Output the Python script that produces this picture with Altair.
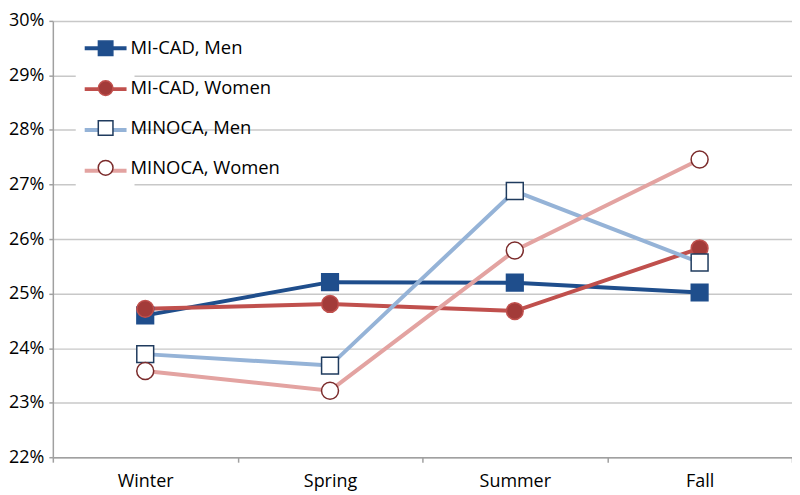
import altair as alt
import pandas as pd

seasons = ["Winter", "Spring", "Summer", "Fall"]
series_names = ["MI-CAD, Men", "MI-CAD, Women", "MINOCA, Men", "MINOCA, Women"]

# values in percent
mi_cad_men = [24.60, 25.21, 25.20, 25.02]
mi_cad_women = [24.72, 24.81, 24.68, 25.83]
minoca_men = [23.89, 23.68, 26.88, 25.57]
minoca_women = [23.58, 23.22, 25.79, 27.46]

y_ticks = [0.22, 0.23, 0.24, 0.25, 0.26, 0.27, 0.28, 0.29, 0.30]

line_colors = ["#1F4E8C", "#C0504D", "#95B3D7", "#E3A3A1"]
marker_fill = ["#1F4E8C", "#A33B39", "#FFFFFF", "#FFFFFF"]
marker_stroke = ["#1F4E8C", "#C0504D", "#1F3B5E", "#7B2B2B"]
marker_shape = ["square", "circle", "square", "circle"]
marker_size = [280, 290, 150, 150]
legend_marker_size = [210, 220, 130, 150]

FONT = "Open Sans"

rows = []
for name, vals in zip(series_names, [mi_cad_men, mi_cad_women, minoca_men, minoca_women]):
    for s, v in zip(seasons, vals):
        rows.append({"season": s, "value": v / 100.0, "series": name, "series2": name})
df = pd.DataFrame(rows)

x_enc = alt.X(
    "season:N",
    sort=seasons,
    title=None,
    scale=alt.Scale(type="band", paddingInner=0, paddingOuter=0),
    axis=alt.Axis(
        labelAngle=0,
        tickBand="extent",
        tickSize=5,
        labelPadding=10,
        grid=False,
        domainColor="#A0A0A0",
        domainWidth=1.5,
        tickColor="#A0A0A0",
        tickWidth=1.5,
        labelFont=FONT,
        labelFontSize=18,
        labelColor="#000000",
    ),
)
y_enc = alt.Y(
    "value:Q",
    title=None,
    scale=alt.Scale(domain=[0.22, 0.30], nice=False, zero=False),
    axis=alt.Axis(
        values=y_ticks,
        format=".0%",
        tickSize=4,
        labelPadding=5,
        grid=True,
        gridColor="#C8C8C8",
        gridWidth=1.5,
        domainColor="#A0A0A0",
        domainWidth=1.5,
        tickColor="#A0A0A0",
        tickWidth=1.5,
        labelFont=FONT,
        labelFontSize=18,
        labelColor="#000000",
    ),
)

nbsp = "\u00a0" * 18

lines = alt.Chart(df).mark_line(strokeWidth=4).encode(
    x=x_enc,
    y=y_enc,
    color=alt.Color(
        "series:N",
        scale=alt.Scale(domain=series_names, range=line_colors),
        legend=alt.Legend(
            title=None,
            orient="none",
            legendX=23,
            legendY=4.5,
            symbolType="stroke",
            symbolSize=1764,
            symbolStrokeWidth=4,
            symbolOffset=7,
            rowPadding=-0.5,
            padding=0,
            fillColor="#FFFFFF",
            labelExpr="'" + nbsp + "'",
            labelFont=FONT,
            labelFontSize=36,
        ),
    ),
    detail="series:N",
)

points = alt.Chart(df).mark_point(opacity=1, fillOpacity=1, strokeWidth=1.5).encode(
    x=x_enc,
    y=y_enc,
    shape=alt.Shape("series2:N", scale=alt.Scale(domain=series_names, range=marker_shape), legend=None),
    fill=alt.Fill("series2:N", scale=alt.Scale(domain=series_names, range=marker_fill), legend=None),
    stroke=alt.Stroke("series2:N", scale=alt.Scale(domain=series_names, range=marker_stroke), legend=None),
    size=alt.Size("series2:N", scale=alt.Scale(domain=series_names, range=marker_size), legend=None),
)

legend_pts = alt.Chart(df).mark_point(opacity=1, fillOpacity=1, strokeWidth=1.5).encode(
    shape=alt.Shape(
        "series2:N",
        scale=alt.Scale(domain=series_names, range=marker_shape),
        legend=alt.Legend(
            title=None,
            orient="none",
            legendX=43.75,
            legendY=18.25,
            rowPadding=18,
            padding=0,
            labelOffset=15.75,
            labelFont=FONT,
            labelFontSize=18.5,
            labelColor="#000000",
            symbolStrokeWidth=1.5,
        ),
    ),
    fill=alt.Fill("series2:N", scale=alt.Scale(domain=series_names, range=marker_fill)),
    stroke=alt.Stroke("series2:N", scale=alt.Scale(domain=series_names, range=marker_stroke)),
    size=alt.Size("series2:N", scale=alt.Scale(domain=series_names, range=legend_marker_size)),
).transform_filter("false")

chart = (
    alt.layer(lines, points, legend_pts)
    .resolve_scale(shape="independent", fill="independent", stroke="independent", size="independent")
    .properties(
        width=742,
        height=438,
        autosize=alt.AutoSizeParams(type="none"),
        padding={"left": 45, "right": 0, "top": 12, "bottom": 36},
    )
    .configure_view(stroke=None)
    .configure_legend(labelFont=FONT)
)

chart.save("out.html", embed_options={"renderer": "svg", "actions": False})
